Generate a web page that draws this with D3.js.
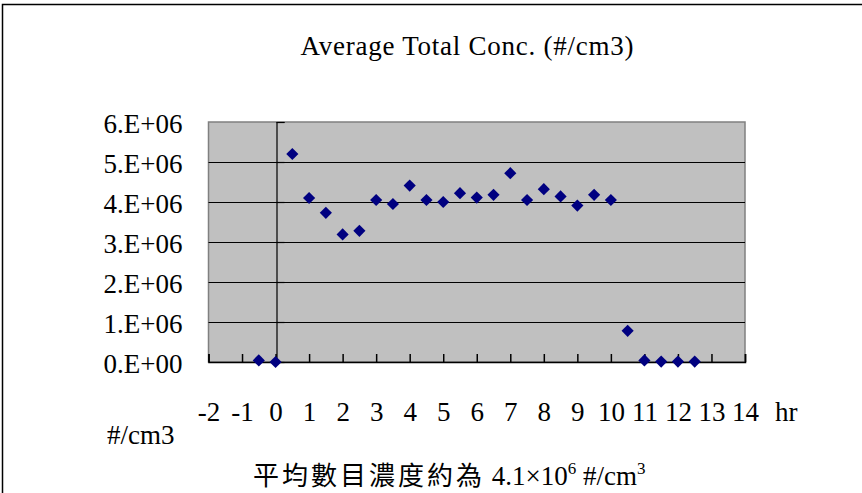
<!DOCTYPE html>
<html>
<head>
<meta charset="utf-8">
<script src="https://cdn.jsdelivr.net/npm/d3@7"></script>
<style>
  html, body { margin: 0; padding: 0; background: #fff; }
  svg { display: block; }
  text { font-family: "Liberation Serif", "DejaVu Serif", serif; fill: #000; }
</style>
</head>
<body>
<div id="chart"></div>
<script>
// Sampling time (hr) and average total number concentration (#/cm3)
const hours = [-0.5, 0, 0.5, 1, 1.5, 2, 2.5, 3, 3.5, 4, 4.5, 5, 5.5, 6, 6.5,
               7, 7.5, 8, 8.5, 9, 9.5, 10, 10.5, 11, 11.5, 12, 12.5];
const conc = [0.04e6, 0, 5.2e6, 4.1e6, 3.73e6, 3.19e6, 3.28e6, 4.05e6, 3.95e6, 4.41e6,
              4.05e6, 4.0e6, 4.22e6, 4.11e6, 4.18e6, 4.72e6, 4.05e6, 4.32e6, 4.14e6,
              3.91e6, 4.18e6, 4.05e6, 0.78e6, 0.04e6, 0.01e6, 0.01e6, 0.01e6];

const xTicks = [-2, -1, 0, 1, 2, 3, 4, 5, 6, 7, 8, 9, 10, 11, 12, 13, 14];
const yTicks = [0, 1e6, 2e6, 3e6, 4e6, 5e6, 6e6];
const yTickLabels = ["0.E+00", "1.E+06", "2.E+06", "3.E+06", "4.E+06", "5.E+06", "6.E+06"];

const titleText = "Average Total Conc. (#/cm3)";
const xUnit = "hr";
const yUnit = "#/cm3";
const noteMain = "平均數目濃度約為 4.1×10";
const noteExp = "6";
const noteUnit = " #/cm";
const noteUnitExp = "3";

const W = 862, H = 493;
const plot = { left: 208.5, right: 745, top: 122, bottom: 362 };

const svg = d3.select("#chart").append("svg")
  .attr("width", W).attr("height", H);

// chart frame
svg.append("rect")
  .attr("x", 2.5).attr("y", 4.5).attr("width", W + 10).attr("height", H + 10)
  .attr("fill", "#fff").attr("stroke", "#000").attr("stroke-width", 1.5);

const x = d3.scaleLinear().domain([-2, 14]).range([plot.left, plot.right]);
const y = d3.scaleLinear().domain([0, 6e6]).range([plot.bottom, plot.top]);

// plot area
svg.append("rect")
  .attr("x", plot.left).attr("y", plot.top)
  .attr("width", plot.right - plot.left).attr("height", plot.bottom - plot.top)
  .attr("fill", "#c0c0c0").attr("stroke", "#808080").attr("stroke-width", 1.5);

// horizontal gridlines
svg.append("g").selectAll("line")
  .data(yTicks.filter(v => v > 0 && v < 6e6))
  .join("line")
  .attr("x1", plot.left).attr("x2", plot.right)
  .attr("y1", d => Math.round(y(d)) + 0.5).attr("y2", d => Math.round(y(d)) + 0.5)
  .attr("stroke", "#000").attr("stroke-width", 1);

// y tick labels at the left of the plot area
const yLabelAxis = d3.axisLeft(y)
  .tickValues(yTicks)
  .tickSize(0)
  .tickPadding(26)
  .tickFormat((d, i) => yTickLabels[i]);
svg.append("g")
  .attr("transform", `translate(${plot.left},0)`)
  .call(yLabelAxis)
  .call(g => g.select(".domain").remove())
  .call(g => g.selectAll("text")
    .attr("font-family", "Liberation Serif")
    .attr("font-size", 27)
    .attr("dy", "0.38em")
    .attr("fill", "#000"));

// vertical axis crossing at hour 0, ticks inside
const yAxis = d3.axisLeft(y).tickValues(yTicks).tickSize(-8).tickFormat("");
svg.append("g")
  .attr("transform", `translate(${Math.round(x(0)) + 0.5},0)`)
  .call(yAxis)
  .call(g => g.selectAll("line, path").attr("stroke", "#000").attr("stroke-width", 1.2));

// horizontal axis at zero, ticks pointing up, labels below
const xAxis = d3.axisBottom(x).tickValues(xTicks).tickSize(-8).tickPadding(40)
  .tickFormat(d3.format("d"));
svg.append("g")
  .attr("transform", `translate(0,${plot.bottom})`)
  .call(xAxis)
  .call(g => g.selectAll("line, path").attr("stroke", "#000").attr("stroke-width", 1.5))
  .call(g => g.selectAll("text")
    .attr("font-family", "Liberation Serif")
    .attr("font-size", 27)
    .attr("fill", "#000")
    .text(d => d < 0 ? "-" + Math.abs(d) : d));

// data markers
svg.append("g").selectAll("path")
  .data(hours.map((h, i) => [h, conc[i]]))
  .join("path")
  .attr("d", d3.symbol(d3.symbolSquare, 74))
  .attr("transform", d => `translate(${x(d[0])},${y(d[1])}) rotate(45)`)
  .attr("fill", "#000080");

// title
svg.append("text")
  .attr("x", 467).attr("y", 55)
  .attr("text-anchor", "middle")
  .attr("font-size", 27)
  .attr("textLength", 333).attr("lengthAdjust", "spacing")
  .text(titleText);

// axis units
svg.append("text")
  .attr("x", 775).attr("y", 421)
  .attr("font-size", 27)
  .text(xUnit);
svg.append("text")
  .attr("x", 107).attr("y", 444)
  .attr("font-size", 27)
  .text(yUnit);

// footnote
const note = svg.append("text")
  .attr("x", 253).attr("y", 485)
  .attr("font-size", 26);
note.append("tspan")
  .attr("font-family", "'Noto Sans CJK TC', 'Noto Sans CJK SC', sans-serif")
  .attr("letter-spacing", 3)
  .text("平均數目濃度約為");
note.append("tspan")
  .attr("font-family", "Liberation Serif")
  .attr("font-size", 27)
  .text(" " + noteMain.replace("平均數目濃度約為 ", ""));
note.append("tspan")
  .attr("font-family", "Liberation Serif")
  .attr("font-size", 17).attr("dy", -11)
  .text(noteExp);
note.append("tspan")
  .attr("font-family", "Liberation Serif")
  .attr("font-size", 27).attr("dy", 11)
  .text(noteUnit);
note.append("tspan")
  .attr("font-family", "Liberation Serif")
  .attr("font-size", 17).attr("dy", -11)
  .text(noteUnitExp);
</script>
</body>
</html>
